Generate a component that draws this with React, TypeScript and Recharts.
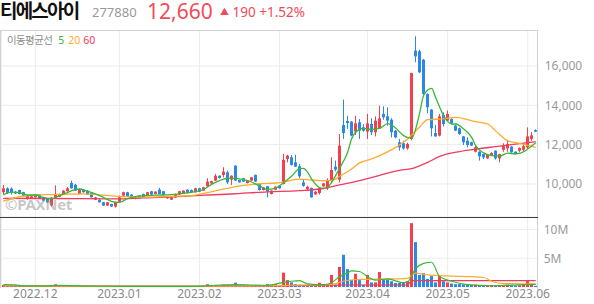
import React from "react";
import { ComposedChart, Bar, Line, XAxis, YAxis, CartesianGrid } from "recharts";

const RED = "#f2404c";
const BLUE = "#2d87e6";
const MA5_COLOR = "#36b836";
const MA20_COLOR = "#ffab2e";
const MA60_COLOR = "#f03a5e";
const FONT = "'Noto Sans', 'Noto Sans CJK KR', sans-serif";

// trading days, 2022.11.21 ~ 2023.06.05
const dates = [
  "2022.11.21", "2022.11.22", "2022.11.23", "2022.11.24", "2022.11.25", "2022.11.28", "2022.11.29", "2022.11.30",
  "2022.12.01", "2022.12.02", "2022.12.05", "2022.12.06", "2022.12.07", "2022.12.08", "2022.12.09", "2022.12.12",
  "2022.12.13", "2022.12.14", "2022.12.15", "2022.12.16", "2022.12.19", "2022.12.20", "2022.12.21", "2022.12.22",
  "2022.12.23", "2022.12.26", "2022.12.27", "2022.12.28", "2022.12.29",
  "2023.01.02", "2023.01.03", "2023.01.04", "2023.01.05", "2023.01.06", "2023.01.09", "2023.01.10", "2023.01.11",
  "2023.01.12", "2023.01.13", "2023.01.16", "2023.01.17", "2023.01.18", "2023.01.19", "2023.01.20", "2023.01.25",
  "2023.01.26", "2023.01.27", "2023.01.30", "2023.01.31",
  "2023.02.01", "2023.02.02", "2023.02.03", "2023.02.06", "2023.02.07", "2023.02.08", "2023.02.09", "2023.02.10",
  "2023.02.13", "2023.02.14", "2023.02.15", "2023.02.16", "2023.02.17", "2023.02.20", "2023.02.21", "2023.02.22",
  "2023.02.23", "2023.02.24", "2023.02.27", "2023.02.28",
  "2023.03.02", "2023.03.03", "2023.03.06", "2023.03.07", "2023.03.08", "2023.03.09", "2023.03.10", "2023.03.13",
  "2023.03.14", "2023.03.15", "2023.03.16", "2023.03.17", "2023.03.20", "2023.03.21", "2023.03.22", "2023.03.23",
  "2023.03.24", "2023.03.27", "2023.03.28", "2023.03.29", "2023.03.30", "2023.03.31",
  "2023.04.03", "2023.04.04", "2023.04.05", "2023.04.06", "2023.04.07", "2023.04.10", "2023.04.11", "2023.04.12",
  "2023.04.13", "2023.04.14", "2023.04.17", "2023.04.18", "2023.04.19", "2023.04.20", "2023.04.21", "2023.04.24",
  "2023.04.25", "2023.04.26", "2023.04.27", "2023.04.28",
  "2023.05.02", "2023.05.03", "2023.05.04", "2023.05.08", "2023.05.09", "2023.05.10", "2023.05.11", "2023.05.12",
  "2023.05.15", "2023.05.16", "2023.05.17", "2023.05.18", "2023.05.19", "2023.05.22", "2023.05.23", "2023.05.24",
  "2023.05.25", "2023.05.26", "2023.05.30", "2023.05.31",
  "2023.06.01", "2023.06.02", "2023.06.05",
];

const monthTicks = ["2022.12.01", "2023.01.02", "2023.02.01", "2023.03.02", "2023.04.03", "2023.05.02", "2023.06.01"];
const monthLabels = ["2022.12", "2023.01", "2023.02", "2023.03", "2023.04", "2023.05", "2023.06"];
const priceTicks = [10000, 12000, 14000, 16000];
const volumeTicks = [5000000, 10000000];

const opens = [
  9580, 9780, 9760, 9610, 9690, 9580, 9240, 9270, 9320, 9460, 9320, 9240, 8900, 9300, 9350, 9490,
  9630, 10050, 9960, 9490, 9710, 9660, 9540, 9200, 9200, 9070, 8900, 8980, 8850, 9100, 9410, 9580,
  9460, 9240, 9410, 9490, 9410, 9630, 9490, 9710, 9630, 9270, 9200, 9320, 9460, 9540, 9710, 9690,
  9580, 9780, 9660, 9880, 10030, 10170, 10420, 10460, 10590, 10220, 10930, 10200, 10290, 10050, 10170, 10460,
  10000, 9690, 9880, 9490, 9710, 9910, 10000, 11270, 11360, 11100, 10900, 10080, 9740, 9800, 9470, 9540,
  9880, 9780, 10200, 10880, 10220, 13000, 13200, 13170, 12660, 13140, 12880, 12660, 13050, 12630, 12830, 13560,
  13440, 13270, 12710, 12120, 12070, 11810, 12290, 16780, 16750, 16320, 14580, 13780, 12590, 12460, 13510, 13220,
  13300, 12970, 12830, 12420, 12200, 12120, 11640, 11640, 11520, 11300, 11470, 11690, 11300, 11740, 11810, 11900,
  11640, 11690, 11740, 11860, 12290, 12740,
];
const highs = [
  9950, 9830, 9830, 9640, 9710, 9600, 9440, 9400, 9490, 9490, 9340, 9260, 9330, 9930, 9510, 9690,
  9850, 10170, 10000, 9780, 9740, 9690, 9560, 9340, 9220, 9090, 9090, 9000, 9090, 9410, 9610, 9600,
  9480, 9340, 9430, 9510, 9600, 9650, 9630, 9800, 9650, 9390, 9340, 9510, 9650, 9680, 9730, 9720,
  9800, 9800, 9850, 10290, 10160, 10510, 10440, 10850, 10680, 10440, 10950, 10220, 10310, 10190, 10360, 10480,
  10020, 9850, 9900, 9680, 9880, 9930, 11530, 11490, 11470, 11490, 11020, 10200, 9910, 9820, 9630, 9830,
  10050, 10290, 11360, 11190, 12540, 14290, 13470, 13200, 13470, 13300, 13050, 13560, 13340, 13440, 13980, 13950,
  13900, 13340, 12750, 12290, 12200, 12100, 15660, 17510, 16830, 16360, 14610, 13810, 13000, 13560, 13640, 13730,
  13340, 13000, 12870, 12440, 12370, 12150, 11950, 11660, 11540, 11490, 11620, 11710, 11540, 12070, 12200, 11920,
  11660, 11860, 12070, 12880, 12630, 12780,
];
const lows = [
  9460, 9490, 9460, 9490, 9470, 9380, 9200, 9240, 9300, 9250, 9120, 9030, 8860, 9250, 9330, 9470,
  9610, 9760, 9640, 9470, 9560, 9440, 9300, 9180, 9050, 8880, 8880, 8830, 8800, 9080, 9390, 9350,
  9300, 9220, 9250, 9300, 9390, 9440, 9470, 9470, 9420, 9250, 9180, 9300, 9440, 9520, 9520, 9560,
  9560, 9590, 9640, 9860, 10010, 10150, 10280, 10340, 10000, 9950, 10150, 10060, 10100, 10030, 10150, 10100,
  9670, 9670, 9320, 9470, 9690, 9760, 9980, 11100, 10940, 10860, 10290, 9860, 9660, 9300, 9450, 9460,
  9860, 9700, 10080, 10640, 10080, 12290, 12800, 12420, 12490, 12290, 12660, 12290, 12490, 12420, 12800, 13270,
  12970, 12370, 12330, 11700, 11740, 11740, 12220, 16190, 15640, 14530, 13590, 12420, 12400, 12420, 12930, 13200,
  13050, 12690, 12500, 11980, 11860, 11930, 11610, 11190, 11270, 11280, 11450, 11240, 11100, 11640, 11640, 11590,
  11500, 11610, 11640, 11780, 12200, 12640,
];
const closes = [
  9780, 9540, 9560, 9520, 9490, 9410, 9410, 9370, 9460, 9270, 9150, 9070, 9300, 9460, 9490, 9660,
  9780, 9780, 9660, 9740, 9580, 9460, 9320, 9320, 9070, 8900, 9070, 8850, 9070, 9320, 9580, 9370,
  9320, 9320, 9270, 9320, 9580, 9460, 9610, 9490, 9440, 9370, 9320, 9490, 9630, 9660, 9540, 9580,
  9780, 9610, 9830, 10120, 10140, 10420, 10300, 10630, 10080, 10420, 10170, 10080, 10120, 10170, 10340, 10120,
  9690, 9830, 9610, 9660, 9860, 9780, 11220, 11440, 10970, 10880, 10390, 9910, 9860, 9320, 9610, 9800,
  10030, 10200, 10710, 10730, 11950, 12590, 13100, 12460, 13080, 12710, 12710, 13080, 12630, 13220, 13340, 13390,
  13220, 12630, 12370, 11860, 11810, 12030, 15640, 16490, 15680, 14580, 13900, 12830, 12420, 13440, 13050, 13560,
  13100, 12710, 12540, 12120, 11980, 11950, 11860, 11410, 11350, 11470, 11570, 11300, 11520, 11920, 12030, 11610,
  11520, 11830, 11920, 12420, 12470, 12660,
];
// volume, thousand shares
const volumes = [
  350, 300, 280, 180, 200, 160, 150, 120, 140, 130, 150, 140, 260, 480, 200, 180,
  190, 220, 200, 180, 120, 130, 140, 110, 120, 150, 130, 140, 120, 160, 180, 120,
  110, 100, 110, 110, 130, 110, 100, 120, 110, 90, 90, 100, 110, 100, 90, 90,
  100, 90, 110, 480, 250, 350, 200, 400, 350, 300, 750, 250, 200, 180, 220, 250,
  300, 200, 500, 200, 500, 250, 2500, 1200, 800, 500, 400, 350, 250, 300, 350, 750,
  300, 350, 2100, 400, 3500, 5600, 3100, 1200, 2300, 1200, 400, 2100, 800, 800, 2600, 1300,
  1300, 1000, 700, 700, 700, 1000, 11100, 7800, 2100, 2400, 1400, 1900, 800, 1900, 1000, 800,
  600, 500, 500, 450, 400, 350, 400, 350, 300, 300, 350, 300, 300, 350, 400, 300,
  250, 300, 350, 1200, 400, 200,
];

// moving averages: [day index, value]
const ma5Points: [number, number][] = [
  [0, 9440], [2, 9580], [4, 9560], [6, 9440], [8, 9440], [10, 9320], [12, 9240], [14, 9400], [16, 9560],
  [18, 9720], [19, 9745], [21, 9630], [23, 9500], [25, 9320], [27, 9120], [29, 9060], [31, 9250], [33, 9360],
  [35, 9400], [38, 9430], [42, 9460], [45, 9520], [48, 9610], [50, 9720], [52, 9980], [54, 10170], [56, 10290],
  [58, 10280], [60, 10220], [62, 10100], [64, 9900], [66, 9720], [68, 9790], [70, 10060], [72, 10390],
  [74, 10780], [75, 10790], [76, 10600], [77, 10260], [79, 9820], [80, 9780], [81, 9820], [82, 10080],
  [84, 10800], [86, 11600], [87, 12290], [89, 12780], [90, 12830], [92, 12780], [94, 12830], [96, 13070],
  [98, 12850], [100, 12460], [102, 12320], [104, 13600], [105, 14500], [107, 14860], [108, 14400],
  [110, 13470], [112, 13050], [113, 13050], [115, 12800], [117, 12370], [118, 11950], [120, 11580],
  [122, 11440], [124, 11420], [126, 11570], [128, 11530], [130, 11640], [131, 11780], [133, 12100],
];
const ma20Points: [number, number][] = [
  [0, 9130], [4, 9350], [8, 9440], [12, 9460], [16, 9480], [20, 9500], [24, 9450], [28, 9380], [32, 9340],
  [36, 9330], [40, 9360], [44, 9380], [47, 9410], [50, 9520], [55, 9740], [60, 9930], [64, 10010], [68, 10050],
  [70, 10090], [72, 10200], [74, 10250], [77, 10200], [79, 10170], [81, 10170], [83, 10250], [84, 10390],
  [87, 10760], [89, 11070], [92, 11270], [94, 11440], [98, 11860], [101, 12290], [104, 12900], [106, 13270],
  [110, 13310], [113, 13390], [118, 13170], [121, 13050], [123, 12700], [126, 12200], [129, 12060], [133, 11860],
];
const ma60Points: [number, number][] = [
  [0, 9270], [10, 9260], [20, 9250], [28, 9240], [35, 9290], [42, 9340], [49, 9420], [57, 9490], [66, 9600],
  [74, 9660], [80, 9770], [84, 9950], [89, 10170], [94, 10440], [99, 10690], [102, 10780], [106, 11100],
  [109, 11400], [114, 11650], [119, 11800], [123, 11900], [127, 12000], [131, 12100], [133, 12150],
];
// volume moving averages, thousand shares
const vma5Points: [number, number][] = [
  [0, 400], [3, 380], [5, 200], [12, 180], [14, 280], [18, 200], [25, 130], [35, 120], [45, 100], [50, 150],
  [53, 300], [58, 420], [62, 350], [66, 300], [70, 800], [72, 1000], [74, 1100], [76, 550], [80, 400],
  [82, 750], [84, 1800], [86, 2500], [87, 2800], [89, 2700], [91, 1800], [93, 1200], [96, 1400], [100, 750],
  [101, 900], [103, 3200], [105, 4100], [107, 4300], [109, 1800], [112, 1000], [116, 400], [122, 220],
  [130, 400], [133, 450],
];
const vma20Points: [number, number][] = [
  [0, 250], [10, 200], [30, 150], [50, 130], [70, 250], [72, 300], [82, 450], [85, 1000], [88, 1300],
  [100, 1450], [101, 1500], [103, 2400], [106, 2100], [112, 1900], [117, 1800], [120, 1650], [122, 1000],
  [125, 600], [133, 550],
];
const vma60Points: [number, number][] = [
  [0, 200], [50, 150], [70, 200], [85, 350], [101, 380], [102, 1100], [133, 1100],
];

function spread(points: [number, number][], scale = 1): (number | null)[] {
  const out: (number | null)[] = dates.map(() => null);
  points.forEach(([i, v]) => {
    out[i] = v * scale;
  });
  return out;
}

const ma5 = spread(ma5Points);
const ma20 = spread(ma20Points);
const ma60 = spread(ma60Points);
const vma5 = spread(vma5Points, 1000);
const vma20 = spread(vma20Points, 1000);
const vma60 = spread(vma60Points, 1000);

const rows = dates.map((d, i) => ({
  d,
  o: opens[i],
  h: highs[i],
  l: lows[i],
  c: closes[i],
  range: [lows[i], highs[i]],
  v: volumes[i] * 1000,
  ma5: ma5[i],
  ma20: ma20[i],
  ma60: ma60[i],
  vma5: vma5[i],
  vma20: vma20[i],
  vma60: vma60[i],
}));

function Candle(props: any) {
  const { x, y, width, height, payload } = props;
  if (!payload || x == null) return null;
  const { o, h, l, c } = payload;
  const top = Math.min(y, y + height);
  const full = Math.abs(height);
  const span = h - l || 1;
  const py = (v: number) => top + ((h - v) / span) * full;
  const cx = x + width / 2;
  const color = c >= o ? RED : BLUE;
  const bTop = py(Math.max(o, c));
  const bBot = py(Math.min(o, c));
  return (
    <g>
      <rect x={Math.round(cx - 0.5)} y={top} width={1} height={Math.max(1, full)} fill={color} />
      <rect x={Math.round(cx - 1.5)} y={bTop} width={3} height={Math.max(1, bBot - bTop)} fill={color} />
    </g>
  );
}

function VolumeBar(props: any) {
  const { x, y, width, height, payload } = props;
  if (!payload || x == null) return null;
  const color = payload.c >= payload.o ? RED : BLUE;
  const cx = x + width / 2;
  return <rect x={Math.round(cx - 1.5)} y={y} width={3} height={Math.max(0, height)} fill={color} />;
}

const tickStyle = { fill: "#999", fontSize: 12 };

function PriceChart() {
  return (
    <ComposedChart width={594} height={187} data={rows} margin={{ top: 0, right: 0, left: 1.3, bottom: 0 }}>
      <CartesianGrid stroke="#ececec" />
      <XAxis dataKey="d" hide ticks={monthTicks} interval={0} />
      <YAxis
        orientation="right"
        width={56.3}
        domain={[8320, 17830]}
        ticks={priceTicks}
        axisLine={false}
        tickLine={false}
        tickMargin={1}
        tick={tickStyle}
        tickFormatter={(v: number) => v.toLocaleString("en-US")}
      />
      <Bar dataKey="range" shape={Candle} isAnimationActive={false} />
      <Line dataKey="ma60" type="monotone" stroke={MA60_COLOR} strokeWidth={1.3} dot={false} connectNulls isAnimationActive={false} />
      <Line dataKey="ma20" type="monotone" stroke={MA20_COLOR} strokeWidth={1.3} dot={false} connectNulls isAnimationActive={false} />
      <Line dataKey="ma5" type="monotone" stroke={MA5_COLOR} strokeWidth={1.3} dot={false} connectNulls isAnimationActive={false} />
    </ComposedChart>
  );
}

function VolumeChart() {
  return (
    <ComposedChart width={594} height={87} data={rows} margin={{ top: 0, right: 0, left: 1.3, bottom: 0 }}>
      <CartesianGrid stroke="#ececec" />
      <XAxis
        dataKey="d"
        ticks={monthTicks}
        interval={0}
        height={17}
        axisLine={false}
        tickLine={false}
        tickSize={0}
        tickMargin={2}
        tick={{ fill: "#8a8a8a", fontSize: 12 }}
        tickFormatter={(v: string) => monthLabels[monthTicks.indexOf(v)] ?? ""}
      />
      <YAxis
        orientation="right"
        width={56.3}
        domain={[0, 12170000]}
        ticks={volumeTicks}
        axisLine={false}
        tickLine={false}
        tickMargin={0}
        tick={tickStyle}
        tickFormatter={(v: number) => `${v / 1000000}M`}
      />
      <Bar dataKey="v" shape={VolumeBar} isAnimationActive={false} />
      <Line dataKey="vma60" type="linear" stroke={MA60_COLOR} strokeWidth={1.2} dot={false} connectNulls isAnimationActive={false} />
      <Line dataKey="vma20" type="monotone" stroke={MA20_COLOR} strokeWidth={1.2} dot={false} connectNulls isAnimationActive={false} />
      <Line dataKey="vma5" type="monotone" stroke={MA5_COLOR} strokeWidth={1.2} dot={false} connectNulls isAnimationActive={false} />
    </ComposedChart>
  );
}

const line = (left: number, top: number, width: number, height: number, bg: string): React.CSSProperties => ({
  position: "absolute",
  left,
  top,
  width,
  height,
  background: bg,
});

export default function App() {
  return (
    <div style={{ position: "relative", width: 594, height: 304, fontFamily: FONT, background: "#fff", overflow: "hidden" }}>
      <style>{"body{margin:0}"}</style>

      <div style={{ position: "absolute", left: 0, top: 1, fontSize: 19, fontWeight: 700, color: "#111", lineHeight: "20px", letterSpacing: -1.8 }}>
        티에스아이
      </div>
      <div style={{ position: "absolute", left: 92, top: 3, fontSize: 13, color: "#999", lineHeight: "18px" }}>277880</div>
      <div style={{ position: "absolute", left: 147, top: -1, fontSize: 21, color: "#f24b57", lineHeight: "24px" }}>12,660</div>
      <div style={{ position: "absolute", left: 220, top: 3, fontSize: 13.5, color: "#f24b57", lineHeight: "18px", whiteSpace: "nowrap" }}>
        <span style={{ fontSize: 9, position: "relative", top: -2 }}>▲</span> 190 +1.52%
      </div>

      <div style={{ position: "absolute", left: 0, top: 30 }}>
        <PriceChart />
      </div>
      <div style={{ position: "absolute", left: 0, top: 217 }}>
        <VolumeChart />
      </div>

      <div style={{ position: "absolute", left: 7, top: 33, fontSize: 10.5, lineHeight: "15px", whiteSpace: "nowrap" }}>
        <span style={{ color: "#8c8c8c", letterSpacing: -0.6 }}>이동평균선</span>
        <span style={{ color: MA5_COLOR, marginLeft: 6 }}>5</span>
        <span style={{ color: MA20_COLOR, marginLeft: 4 }}>20</span>
        <span style={{ color: MA60_COLOR, marginLeft: 3 }}>60</span>
      </div>

      <div style={{ position: "absolute", left: 5, top: 195, fontSize: 15, fontWeight: 700, color: "rgba(150,150,150,0.55)", lineHeight: "18px", letterSpacing: -0.3 }}>
        ©PAXNet
      </div>

      <div style={line(0, 30, 538, 1, "#d2d2d2")} />
      <div style={line(0, 30, 1, 258, "#d2d2d2")} />
      <div style={line(537, 30, 1, 260, "#d2d2d2")} />
      <div style={line(0, 217, 538, 1, "#3c3c3c")} />
    </div>
  );
}
